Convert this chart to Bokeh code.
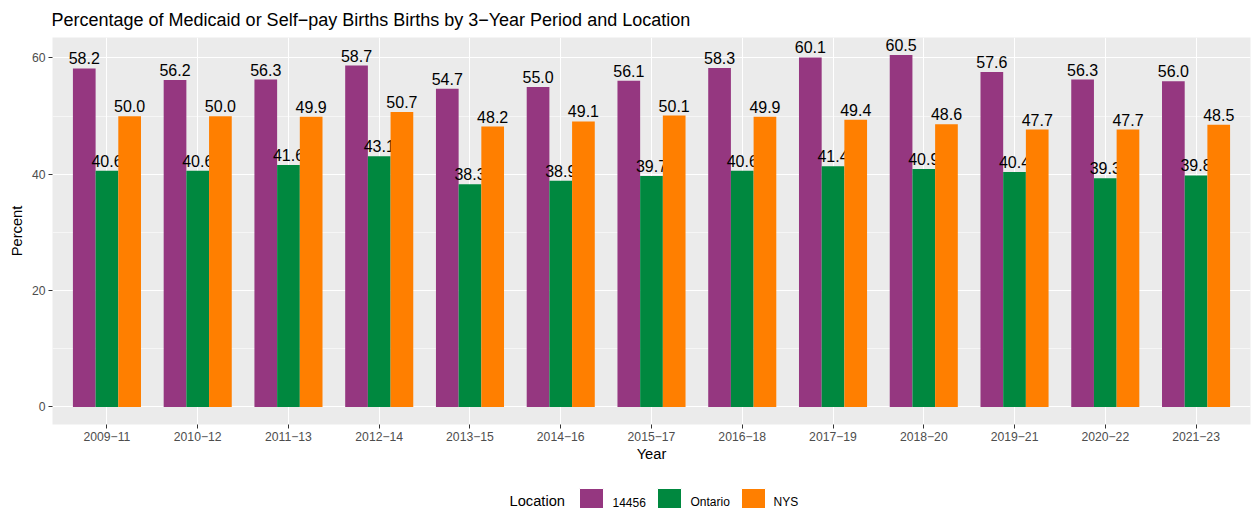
from bokeh.plotting import figure
from bokeh.layouts import column
from bokeh.models import (ColumnDataSource, FactorRange, Range1d, FixedTicker)
from bokeh.transform import dodge
from bokeh.core.properties import value
from bokeh.embed import file_html
from bokeh.resources import INLINE

periods = ["2009\u221211", "2010\u221212", "2011\u221213", "2012\u221214", "2013\u221215",
           "2014\u221216", "2015\u221217", "2016\u221218", "2017\u221219", "2018\u221220",
           "2019\u221221", "2020\u221222", "2021\u221223"]
loc_14456 = [58.2, 56.2, 56.3, 58.7, 54.7, 55.0, 56.1, 58.3, 60.1, 60.5, 57.6, 56.3, 56.0]
ontario = [40.6, 40.6, 41.6, 43.1, 38.3, 38.9, 39.7, 40.6, 41.4, 40.9, 40.4, 39.3, 39.8]
nys = [50.0, 50.0, 49.9, 50.7, 48.2, 49.1, 50.1, 49.9, 49.4, 48.6, 47.7, 47.7, 48.5]
series_names = ["14456", "Ontario", "NYS"]
legend_title_text = "Location"
colors = ["#953780", "#00883F", "#FF7F00"]
y_ticks = [0, 20, 40, 60]
y_minor = [-10, 10, 30, 50, 70]

FONT = "Liberation Sans"

src = ColumnDataSource(dict(
    period=periods,
    a=loc_14456, b=ontario, c=nys,
    la=[f"{v:.1f}" for v in loc_14456],
    lb=[f"{v:.1f}" for v in ontario],
    lc=[f"{v:.1f}" for v in nys],
))

ymax = max(loc_14456 + ontario + nys)
pad = 0.05 * ymax

p = figure(width=1256, height=468, output_backend="svg", toolbar_location=None,
           x_range=FactorRange(factors=periods, range_padding=0.1,
                               range_padding_units="absolute"),
           y_range=Range1d(-pad, ymax + pad),
           title="Percentage of Medicaid or Self\u2212pay Births Births by 3\u2212Year Period and Location",
           min_border_left=52, min_border_top=36, min_border_right=6, min_border_bottom=44)

p.background_fill_color = "#EBEBEB"
p.border_fill_color = "white"
p.outline_line_color = None

p.title.text_font = FONT
p.title.text_font_size = "18px"
p.title.text_font_style = "normal"
p.title.text_color = "black"
p.title.offset = -1
p.title.standoff = 15

offsets = [-0.25, 0.0, 0.25]
for col, lab, off, colr in zip(["a", "b", "c"], ["la", "lb", "lc"], offsets, colors):
    p.vbar(x=dodge("period", off, range=p.x_range), top=col, bottom=0, width=0.25,
           source=src, fill_color=colr, line_color=None)
    p.text(x=dodge("period", off, range=p.x_range), y=col, text=lab, source=src,
           text_align="center", text_baseline="alphabetic", y_offset=-10,
           text_font=value(FONT), text_font_size="16px", text_color="black")

# grids
p.xgrid.grid_line_color = "white"
p.xgrid.grid_line_width = 1.1
p.ygrid.grid_line_color = "white"
p.ygrid.grid_line_width = 1.1
p.ygrid.minor_grid_line_color = "white"
p.ygrid.minor_grid_line_width = 0.55

p.yaxis.ticker = FixedTicker(ticks=y_ticks, minor_ticks=y_minor)

for ax in (p.xaxis[0], p.yaxis[0]):
    ax.axis_line_color = None
    ax.major_tick_line_color = "#333333"
    ax.major_tick_out = 4
    ax.major_tick_in = 0
    ax.minor_tick_out = 0
    ax.minor_tick_in = 0
    ax.major_label_text_font = FONT
    ax.major_label_text_font_size = "12.2px"
    ax.major_label_text_color = "#4D4D4D"
    ax.axis_label_text_font = FONT
    ax.axis_label_text_font_size = "14.7px"
    ax.axis_label_text_font_style = "normal"
    ax.axis_label_text_color = "black"
    ax.major_label_standoff = 3

p.xaxis.axis_label = "Year"
p.yaxis.axis_label = "Percent"
p.xaxis.axis_label_standoff = 2
p.yaxis.axis_label_standoff = 4

# legend strip drawn as its own small figure (page-like coordinates)
lg = figure(width=1256, height=40, output_backend="svg", toolbar_location=None,
            x_range=Range1d(52, 1250), y_range=Range1d(40, 0),
            min_border_left=52, min_border_right=6,
            min_border_top=0, min_border_bottom=0)
lg.axis.visible = False
lg.grid.visible = False
lg.outline_line_color = None
lg.background_fill_color = "white"
lg.border_fill_color = "white"

key_x = [591, 669, 753]
label_x = [612, 690, 773]
key_y = 32
lg.text(x=[509], y=[key_y], text=[legend_title_text], text_baseline="middle",
        text_align="left", text_font=value(FONT), text_font_size="14.7px",
        text_color="black")
lg.rect(x=key_x, y=[key_y] * 3, width=24, height=24, fill_color=colors,
        line_color="white", line_width=1)
lg.text(x=label_x, y=[key_y + 1.5] * 3, text=series_names, text_baseline="middle",
        text_align="left", text_font=value(FONT), text_font_size="12px",
        text_color="black")

layout = column(p, lg, spacing=0)
open("out.html", "w").write(file_html(layout, INLINE))
